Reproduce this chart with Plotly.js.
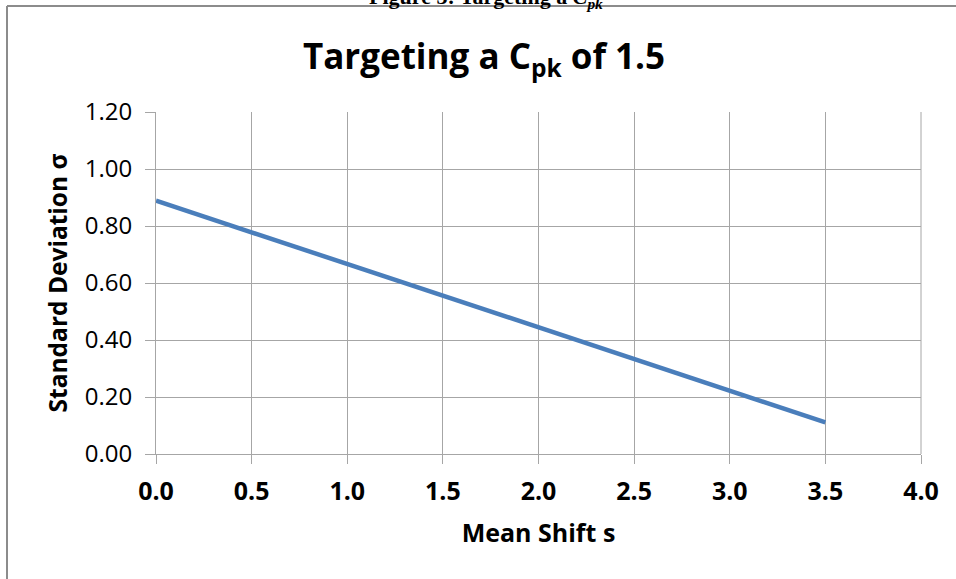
<!DOCTYPE html>
<html>
<head>
<meta charset="utf-8">
<script src="https://cdn.plot.ly/plotly-3.0.1.min.js"></script>
<style>
  html, body { margin: 0; padding: 0; background: #ffffff; }
  #chart { width: 956px; height: 579px; }
</style>
</head>
<body>
<div id="chart"></div>
<script>
// Data
const meanShift = [0.0, 0.5, 1.0, 1.5, 2.0, 2.5, 3.0, 3.5];
const stdDev = [0.889, 0.778, 0.667, 0.556, 0.444, 0.333, 0.222, 0.111];
const xTickVals = [0.0, 0.5, 1.0, 1.5, 2.0, 2.5, 3.0, 3.5, 4.0];
const yTickVals = [0.0, 0.2, 0.4, 0.6, 0.8, 1.0, 1.2];

const W = 956, H = 579;
const M = { l: 156, r: 35, t: 112, b: 125 };
const pw = W - M.l - M.r, ph = H - M.t - M.b;
const px = p => (p - M.l) / pw;          // pixel x -> paper x
const py = p => (H - M.b - p) / ph;      // pixel y -> paper y

const grid = '#a6a6a6';
const font = '"Open Sans", "Noto Sans", sans-serif';

const trace = {
  x: meanShift,
  y: stdDev,
  type: 'scatter',
  mode: 'lines',
  line: { color: '#4a7ebb', width: 4.5 },
  hoverinfo: 'x+y',
  showlegend: false
};

const layout = {
  width: W, height: H,
  margin: M,
  paper_bgcolor: '#ffffff',
  plot_bgcolor: '#ffffff',
  font: { family: font, color: '#000000' },
  title: {
    text: '<b>Targeting a C<sub>pk</sub> of 1.5</b>',
    font: { family: font, size: 35, color: '#000000' },
    xref: 'container', yref: 'container',
    x: 484 / W, xanchor: 'center',
    y: 1 - 57 / H, yanchor: 'middle'
  },
  xaxis: {
    range: [0, 4],
    tickvals: xTickVals,
    tickformat: '.1f',
    tickfont: { family: font, size: 25, weight: 'bold' },
    showgrid: true, gridcolor: grid, gridwidth: 1,
    showline: true, linecolor: grid, linewidth: 1,
    ticks: 'outside', ticklen: 9, tickcolor: grid, tickwidth: 1,
    ticklabelstandoff: 6,
    zeroline: false,
    title: {
      text: '<b>Mean Shift s</b>',
      font: { family: font, size: 25 },
      standoff: 18
    }
  },
  yaxis: {
    range: [0, 1.2],
    tickvals: yTickVals,
    tickformat: '.2f',
    tickfont: { family: font, size: 24 },
    showgrid: true, gridcolor: grid, gridwidth: 1,
    showline: true, linecolor: grid, linewidth: 1,
    ticks: 'outside', ticklen: 10, tickcolor: grid, tickwidth: 1,
    ticklabelstandoff: 8,
    zeroline: false,
    title: {
      text: '<b>Standard Deviation σ</b>',
      font: { family: font, size: 24.5 },
      standoff: 10
    }
  },
  shapes: [
    // outer chart frame (top and left edges visible)
    { type: 'line', xref: 'paper', yref: 'paper',
      x0: px(7), x1: px(W + 20), y0: py(6), y1: py(6),
      line: { color: '#8c8c8c', width: 2 } },
    { type: 'line', xref: 'paper', yref: 'paper',
      x0: px(7), x1: px(7), y0: py(6), y1: py(H + 20),
      line: { color: '#8c8c8c', width: 2 } },
    // right edge of plot area
    { type: 'line', xref: 'paper', yref: 'paper',
      x0: 1, x1: 1, y0: 0, y1: 1,
      line: { color: grid, width: 1 } }
  ],
  annotations: [
    {
      text: '<b>Figure 3: Targeting a <i>C<sub>pk</sub></i></b>',
      xref: 'paper', yref: 'paper',
      x: px(486), xanchor: 'center',
      y: py(14), yanchor: 'bottom',
      showarrow: false,
      font: { family: '"Liberation Serif", "DejaVu Serif", serif', size: 22, color: '#000000' }
    }
  ]
};

Plotly.newPlot('chart', [trace], layout, { displayModeBar: false, staticPlot: true });
</script>
</body>
</html>
